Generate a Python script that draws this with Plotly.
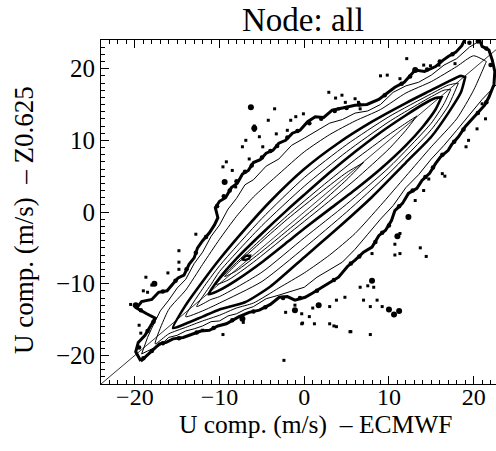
import plotly.graph_objects as go

# ---------------- data (m/s) ----------------
# outermost (thick, jagged) contour
L1_x = [-19.3,-19.9,-19.6,-18.8,-18.2,-17.6,-18.6,-19.8,-19.2,-18.0,-17.2,-16.2,-15.5,-14.9,-14.2,-13.6,-13.0,-12.6,-12.0,-11.2,-10.6,-10.2,-10.5,-10.0,-9.3,-8.6,-7.9,-7.3,-6.6,-6.0,-5.2,-4.5,-3.7,-3.0,-2.2,-1.4,-0.5,0.4,1.3,2.3,3.3,4.8,6.0,7.4,8.8,9.8,10.7,11.8,13.1,14.2,15.5,16.4,17.0,17.9,18.6,19.2,20.5,21.0,21.8,22.2,22.5,22.4,21.8,21.3,20.2,19.0,18.2,17.4,17.0,16.1,15.5,14.8,13.9,13.3,12.3,11.6,10.7,10.3,9.6,8.8,8.0,7.0,6.0,5.1,4.05,3.0,2.1,1.0,0.1,-1.1,-2.0,-2.95,-4.0,-5.3,-6.5,-7.7,-9.2,-10.2,-11.2,-12.2,-13.2,-14.3,-15.5,-16.3,-17.1,-17.8,-18.3,-19.1,-19.3]
L1_y = [-20.8,-19.5,-18.2,-17.2,-16.0,-14.8,-14.2,-13.4,-12.5,-12.2,-11.2,-11.0,-10.0,-9.2,-8.8,-7.3,-6.4,-5.0,-4.0,-2.9,-1.8,-0.8,0.6,1.5,2.0,3.4,4.0,5.3,5.8,6.9,7.3,8.2,8.6,9.6,10.0,11.0,11.4,12.6,13.3,13.2,14.2,14.6,14.9,15.0,15.7,16.6,17.4,18.1,19.8,19.6,20.3,21.2,21.7,22.3,23.2,24.6,24.6,23.1,22.6,21.2,19.6,17.8,16.0,14.9,13.4,11.9,10.5,9.4,8.6,7.7,6.75,5.4,4.4,3.3,2.6,1.2,0.2,-1.2,-2.55,-3.3,-4.9,-5.6,-6.7,-7.6,-9.1,-9.8,-10.5,-11.3,-11.9,-12.3,-11.8,-11.9,-12.9,-13.7,-14.0,-14.6,-15.6,-15.9,-16.5,-16.6,-17.0,-17.5,-17.7,-18.2,-18.4,-19.2,-19.7,-20.7,-20.8]

# blobs sitting on the outer contour (its ragged fringe)
fringe_x = [-10.3,-9.5,-8.8,-8.0,-7.0,-6.2,-5.0,-4.0,-3.2,-2.0,-0.8,0.6,2.0,3.6,5.0,6.5,9.5,11.5,12.5,14.5,16.0,17.5,19.5,20.5,21.5,
            22.0,21.5,20.5,18.8,17.7,16.3,15.2,14.3,12.8,11.2,10.0,9.2,8.4,6.5,5.5,3.5,1.5,-0.5,-2.5,-4.6,-6.0,-8.5,-10.7,-12.7,-14.8,-16.7,-18.0,-19.0,
            -19.5,-18.5,-17.8,-19.3,-16.7,-15.2,-13.9,-12.8,-11.6]
fringe_y = [0.8,2.2,3.0,4.3,5.6,6.5,7.6,8.5,9.2,10.4,11.3,12.4,13.0,14.1,14.5,15.0,16.3,17.9,18.9,19.9,21.0,22.0,23.6,23.8,22.8,
            20.5,15.3,13.8,11.5,9.8,8.0,6.2,4.9,3.0,0.8,-1.9,-2.9,-4.2,-6.2,-7.2,-9.5,-11.0,-12.0,-12.0,-13.3,-13.9,-15.1,-16.2,-16.8,-17.6,-18.3,-19.4,-20.4,
            -18.9,-16.6,-15.3,-13.7,-11.1,-9.6,-8.0,-5.7,-3.5]

# inner contours: x positions, departure (y - x) of upper and lower edge
L2_x  = [-19.2,-18.5,-18,-17,-16,-15,-14,-13,-12,-11,-10,-9,-8,-7,-6,-4.5,-3,-1.5,0,1.5,3,4.5,6,7.5,9,10.5,12,13.5,15,16.5,18,19.5,21,24]
L2_up = [-0.6,1.0,1.8,3.2,3.7,4.4,4.6,5.8,6.4,7.6,8.2,9.4,9.9,10.8,10.5,10.9,10.4,10.8,10.3,9.9,9.4,8.4,7.8,6.6,6.0,6.2,5.6,4.6,4.1,4.0,3.4,3.5,3.1,3.0]
L2_lo = [-0.6,-0.9,-1.2,-1.6,-1.5,-2.2,-2.6,-3.3,-3.9,-4.3,-5.2,-5.5,-6.2,-6.6,-7.2,-7.6,-8.6,-9.6,-10.5,-10.6,-11.0,-11.5,-11.2,-10.6,-10.0,-9.6,-8.6,-8.3,-7.6,-7.2,-6.6,-6.0,-5.3,-4.6]

L3_x  = [-17.6,-16,-14,-12,-10,-8,-6,-3,0,3,6,9,12,15,18,20,21.5]
L3_up = [-0.8,2.4,3.1,4.7,6.2,7.4,8.1,8.3,8.4,7.8,6.7,5.3,4.6,3.2,2.3,1.8,-0.5]
L3_lo = [-0.8,-1.0,-2.1,-3.2,-4.4,-5.4,-6.7,-7.6,-8.5,-9.0,-9.0,-8.1,-7.0,-5.9,-5.0,-3.0,-0.5]

L4_x  = [-15.5,-14,-12,-10,-7,-4,0,4,8,12,15,17,18.5,19]
L4_up = [-0.7,1.0,2.3,3.4,4.6,5.5,6.0,5.6,4.6,3.2,2.0,1.2,0.5,-0.2]
L4_lo = [-0.7,-1.6,-2.6,-3.6,-5.6,-6.4,-6.3,-6.2,-5.9,-5.1,-4.5,-3.2,-1.8,-0.2]

L5_x  = [-14,-12,-10,-5,0,5,10,15,17,18.2]
L5_up = [-0.6,1.3,2.5,4.1,4.8,4.4,3.3,1.5,0.7,-0.2]
L5_lo = [-0.6,-1.8,-2.7,-4.7,-5.0,-5.0,-4.6,-3.5,-2.2,-0.2]

L6_x  = [-12.7,-11,-10,-5,0,5,10,15,16.5,17.3]
L6_up = [-0.5,0.9,1.7,3.1,3.6,3.4,2.6,1.1,0.5,-0.2]
L6_lo = [-0.5,-1.2,-1.8,-3.4,-3.6,-3.9,-3.8,-2.6,-1.4,-0.2]

L7_x  = [-11.3,-10,-8,-5,-2,0,3,6,9,12,14,15.5,16.2]
L7_up = [-0.2,0.8,1.5,2.0,2.3,2.4,2.5,2.4,2.1,1.5,1.0,0.4,-0.2]
L7_lo = [-0.2,-0.9,-1.5,-2.0,-2.2,-2.3,-2.6,-2.9,-3.0,-2.7,-2.1,-1.2,-0.2]

L8_x  = [-10.4,-9,-6,-2,2,6,10,12,13.3]
L8_up = [0.3,0.8,1.2,1.5,1.5,1.3,0.8,0.4,0.1]
L8_lo = [0.3,-0.5,-1.0,-1.2,-1.4,-1.5,-1.2,-0.6,0.1]

L9_x  = [-9.4,-8,-5,-2,2,5,7]
L9_up = [0.4,0.7,0.9,1.0,0.8,0.5,-0.1]
L9_lo = [0.4,-0.2,-0.5,-0.6,-0.7,-0.5,-0.1]

# small peak island
isl_x = [-7.4,-6.9,-6.4,-6.5,-7.0,-7.4]
isl_y = [-6.6,-6.1,-6.1,-6.5,-6.7,-6.6]

# isolated points outside the outer contour
dot_x = [-6.3,-3.5,-5.9,-5.9,-4.25,-5.3,-6.9,-7.3,-4.9,-6.5,-9.2,-9.6,-8.5,-8.1,-1.6,-1.0,-2.0,-3.3,
         12.1,14.1,14.9,15.9,9.8,9.0,11.3,2.9,4.45,3.7,6.0,6.4,4.05,6.6,4.85,-0.1,17.8,
         21.0,21.4,20.4,19.4,19.1,16.3,16.6,14.7,14.1,13.1,
         11.3,10.7,11.3,13.7,14.4,10.7,8.0,8.2,7.5,6.6,8.6,9.2,7.8,7.0,4.8,3.8,5.4,7.8,1.0,3.0,-0.3,-0.3,0.6,1.2,3.0,3.8,-1.1,
         -12.8,-14.8,-14.8,-16.1,-18.7,-18.0,-18.5,-19.0,-20.5,-19.5,-19.3,-14.8,-12.0,-9.6,-2.4,-2.2,-7.2,5.5,3.5,-0.2]
dot_y = [14.6,14.4,12.0,11.4,12.8,10.5,10.0,9.1,9.1,7.4,7.0,6.3,5.8,3.5,12.8,13.3,11.4,10.9,
         21.4,20.5,20.4,20.5,19.1,19.0,18.6,16.7,16.3,15.9,15.8,15.3,14.4,14.4,15.3,13.7,20.7,
         15.1,13.0,11.6,10.0,9.1,5.35,5.0,4.6,3.0,1.6,
         -3.0,-6.0,-5.8,-5.0,-6.2,-4.5,-5.8,-10.5,-10.3,-10.5,-12.3,-13.2,-13.2,-12.3,-11.9,-12.3,-16.7,-17.1,-13.4,-13.2,-14.2,-15.6,-14.6,-15.6,-15.6,-16.0,-13.0,
         -3.1,-5.4,-7.0,-8.5,-9.1,-10.2,-11.2,-11.0,-12.9,-15.8,-16.9,-8.0,-16.5,-17.1,-20.7,-14.0,-15.4,-16.7,-15.9,-15.5]

# larger blobs
blob_x = [-6.3,-5.9,13.1,12.3,10.0,10.6,11.2,1.7,-1.1,-19.9,-17.7,-9.4,8.0,11.0,-7.3]
blob_y = [14.6,11.7,19.8,-0.7,-13.6,-14.3,-13.8,-13.0,-13.7,-13.0,-10.0,4.2,-9.6,-3.4,-14.9]

one_to_one = [-24, 24]

x_ticks = [-20, -10, 0, 10, 20]
y_ticks = [-20, -10, 0, 10, 20]

# ---------------- figure ----------------
fig = go.Figure()

def ring(xs, up, lo):
    px = list(xs) + list(xs[::-1])
    py = [a + d for a, d in zip(xs, up)] + [a + d for a, d in zip(xs[::-1], lo[::-1])]
    return px, py

levels = [(L2_x, L2_up, L2_lo, 1.0, "linear"), (L3_x, L3_up, L3_lo, 1.0, "spline"),
          (L4_x, L4_up, L4_lo, 2.6, "spline"), (L5_x, L5_up, L5_lo, 1.0, "spline"),
          (L6_x, L6_up, L6_lo, 1.0, "spline"), (L7_x, L7_up, L7_lo, 2.6, "spline"),
          (L8_x, L8_up, L8_lo, 1.0, "spline"), (L9_x, L9_up, L9_lo, 1.0, "spline")]

fig.add_trace(go.Scatter(x=one_to_one, y=one_to_one, mode="lines",
                         line=dict(color="black", width=0.8), hoverinfo="skip"))

for xs, up, lo, w, shp in levels:
    px, py = ring(xs, up, lo)
    line = dict(color="black", width=w, shape=shp)
    if shp == "spline":
        line["smoothing"] = 0.6
    fig.add_trace(go.Scatter(x=px, y=py, mode="lines", line=line, hoverinfo="skip"))

fig.add_trace(go.Scatter(x=isl_x, y=isl_y, mode="lines",
                         line=dict(color="black", width=2.4), hoverinfo="skip"))

fig.add_trace(go.Scatter(x=L1_x, y=L1_y, mode="lines",
                         line=dict(color="black", width=3), hoverinfo="skip"))
fig.add_trace(go.Scatter(x=fringe_x, y=fringe_y, mode="markers",
                         marker=dict(color="black", size=4.5), hoverinfo="skip"))

fig.add_trace(go.Scatter(x=dot_x, y=dot_y, mode="markers",
                         marker=dict(color="black", size=3, symbol="square"), hoverinfo="skip"))
fig.add_trace(go.Scatter(x=blob_x, y=blob_y, mode="markers",
                         marker=dict(color="black", size=6), hoverinfo="skip"))

font_family = "Liberation Serif, Times New Roman, serif"

fig.update_layout(
    width=496, height=451,
    margin=dict(l=101, r=0, t=40, b=67),
    paper_bgcolor="white", plot_bgcolor="white",
    showlegend=False,
    font=dict(family=font_family, size=24, color="black"),
    xaxis=dict(range=[-24, 22.64], tickvals=x_ticks, ticks="inside", ticklen=8,
               tickwidth=1, tickcolor="black", showline=True, linecolor="black",
               linewidth=1, mirror="ticks", showgrid=False, zeroline=False,
               minor=dict(ticks="inside", ticklen=4, dtick=1, tickcolor="black", showgrid=False),
               tickfont=dict(size=24), ticklabelstandoff=-9),
    yaxis=dict(range=[-24, 24], tickvals=y_ticks, ticks="inside", ticklen=8,
               tickwidth=1, tickcolor="black", showline=True, linecolor="black",
               linewidth=1, showgrid=False, zeroline=False,
               minor=dict(ticks="inside", ticklen=4, dtick=1, tickcolor="black", showgrid=False),
               tickfont=dict(size=25)),
    annotations=[
        dict(text="Node: all", xref="paper", yref="paper", x=0.511, y=1.058,
             xanchor="center", yanchor="middle", showarrow=False,
             font=dict(size=33, family=font_family)),
        dict(text="U comp. (m/s)  \u2013 ECMWF", xref="paper", yref="paper", x=0.544, y=-0.119,
             xanchor="center", yanchor="middle", showarrow=False,
             font=dict(size=25.5, family=font_family)),
        dict(text="U comp. (m/s)  \u2013 Z0.625", xref="paper", yref="paper", x=-0.195, y=0.477,
             xanchor="center", yanchor="middle", textangle=-90, showarrow=False,
             font=dict(size=27, family=font_family)),
    ],
)

fig.write_html("out.html", config={"displayModeBar": False},
               post_script="document.body.style.margin='0';document.body.style.overflow='hidden';")
